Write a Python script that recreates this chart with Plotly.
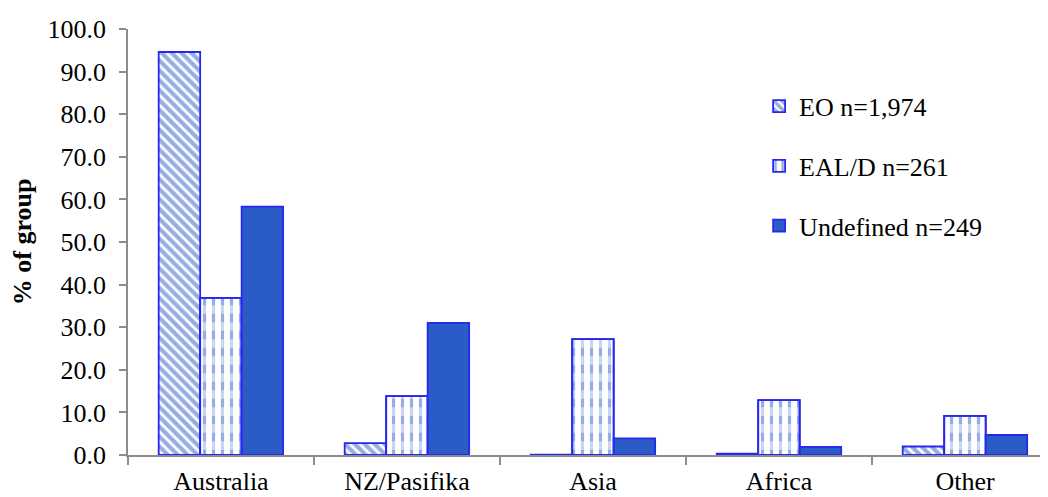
import plotly.graph_objects as go

categories = ["Australia", "NZ/Pasifika", "Asia", "Africa", "Other"]
series_names = ["EO n=1,974", "EAL/D n=261", "Undefined n=249"]
eo_values = [94.6, 2.8, 0.1, 0.3, 2.0]
eald_values = [36.9, 13.8, 27.2, 12.9, 9.2]
undefined_values = [58.3, 31.0, 3.9, 1.9, 4.7]

FILL = "#2B5BC7"
EDGE = "#2727F2"
AXIS = "#8C8C8C"
FONT = "Liberation Serif, Times New Roman, serif"

W = 0.223
offsets = [-0.335, -0.112, 0.111]

fig = go.Figure()

# EO: diagonal hatch
fig.add_trace(go.Bar(
    x=categories, y=eo_values, name=series_names[0], width=W, offset=offsets[0],
    legendgroup="eo",
    marker=dict(color="white", line=dict(color=EDGE, width=1.8),
                pattern=dict(shape="\\", fgcolor=FILL, bgcolor="white", size=7, solidity=0.6)),
))

# EAL/D: vertical dashed lines (vertical lines broken by white horizontal bands)
fig.add_trace(go.Bar(
    x=categories, y=eald_values, name=series_names[1], width=W, offset=offsets[1],
    legendgroup="eald",
    marker=dict(color="white", line=dict(color=EDGE, width=1.8),
                pattern=dict(shape="|", fgcolor=FILL, bgcolor="white", size=9, solidity=0.36)),
))
fig.add_trace(go.Bar(
    x=categories, y=eald_values, width=W - 0.012, offset=offsets[1] + 0.006,
    showlegend=False, legendgroup="eald", hoverinfo="skip",
    marker=dict(color="rgba(0,0,0,0)", line=dict(width=0),
                pattern=dict(shape="-", fgcolor="white", bgcolor="rgba(0,0,0,0)", size=17, solidity=0.5)),
))
fig.add_trace(go.Bar(
    x=categories, y=eald_values, width=W, offset=offsets[1],
    showlegend=False, legendgroup="eald", hoverinfo="skip",
    marker=dict(color="rgba(0,0,0,0)", line=dict(color=EDGE, width=1.8)),
))

# Undefined: solid
fig.add_trace(go.Bar(
    x=categories, y=undefined_values, name=series_names[2], width=W, offset=offsets[2],
    legendgroup="und",
    marker=dict(color=FILL, line=dict(color=EDGE, width=1.8)),
))

fig.update_layout(
    width=1040, height=489,
    margin=dict(l=120, r=0, t=21, b=42),
    paper_bgcolor="white", plot_bgcolor="white",
    barmode="overlay",
    font=dict(family=FONT, size=26, color="black"),
    showlegend=True,
    legend=dict(x=0.686, y=0.874, xanchor="left", yanchor="top",
                font=dict(family=FONT, size=26, color="black"),
                tracegroupgap=23, bgcolor="rgba(0,0,0,0)"),
    annotations=[dict(text="<b>% of group</b>", textangle=-90, x=-0.115, y=0.5,
                      xref="paper", yref="paper", xanchor="center", yanchor="middle",
                      showarrow=False, font=dict(family=FONT, size=26, color="black"))],
)

fig.update_xaxes(
    type="category", range=[-0.5, 4.446], showline=True, linecolor=AXIS, linewidth=1.5,
    ticks="outside", tickson="boundaries", ticklen=8, tickcolor=AXIS, tickwidth=1.5,
    ticklabelstandoff=2, showgrid=False, zeroline=False, automargin=False,
)
fig.update_yaxes(
    range=[0, 100], dtick=10, tickformat=".1f", showline=True, linecolor=AXIS, linewidth=1.5,
    ticks="outside", ticklen=7, tickcolor=AXIS, tickwidth=1.5, ticklabelstandoff=8,
    showgrid=False, zeroline=False, automargin=False,
)

fig.write_html("out.html")
